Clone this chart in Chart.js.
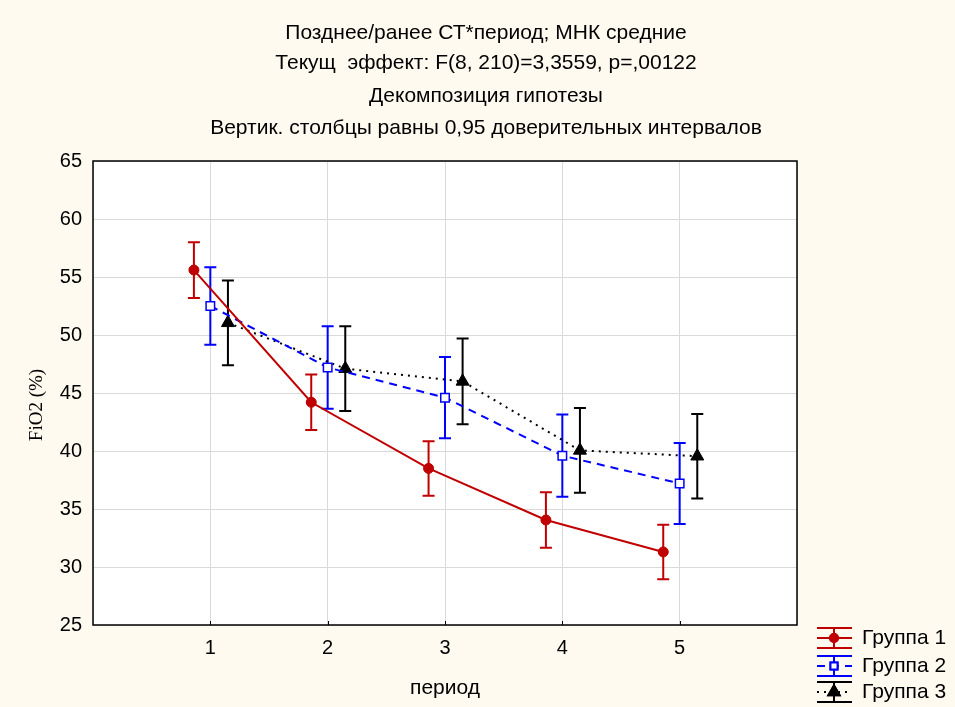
<!DOCTYPE html>
<html>
<head>
<meta charset="utf-8">
<script src="https://cdn.jsdelivr.net/npm/chart.js@4.4.0/dist/chart.umd.min.js"></script>
<style>
  body { margin: 0; background: #fffaf0; }
  #wrap { width: 955px; height: 707px; }
</style>
</head>
<body>
<div id="wrap"><canvas id="grafico" width="955" height="707"></canvas></div>
<script>
// dados
const periodos = [1, 2, 3, 4, 5];
const yTicks = [25, 30, 35, 40, 45, 50, 55, 60, 65];
const titulos = [
    'Позднее/ранее СТ*период; МНК средние',
    'Текущ  эффект: F(8, 210)=3,3559, p=,00122',
    'Декомпозиция гипотезы',
    'Вертик. столбцы равны 0,95 доверительных интервалов'
];
const nomesGrupos = ['Группа 1', 'Группа 2', 'Группа 3'];
const grupo1 = [55.6, 44.2, 38.5, 34.05, 31.3];
const grupo1Ci = [2.4, 2.4, 2.35, 2.4, 2.35];
const grupo2 = [52.5, 47.2, 44.6, 39.6, 37.2];
const grupo2Ci = [3.35, 3.55, 3.5, 3.55, 3.5];
const grupo3 = [51.05, 47.1, 46.0, 40.05, 39.55];
const grupo3Ci = [3.65, 3.65, 3.7, 3.65, 3.65];

const FONTE = '"Liberation Sans", Arial, sans-serif';

function montarPontos(valores, desloc) {
    return periodos.map(function (p, i) {
        return { x: p + desloc, y: valores[i] };
    });
}

const dados = {
    datasets: [{
        label: nomesGrupos[0],
        data: montarPontos(grupo1, -0.14),
        ci: grupo1Ci,
        borderColor: '#c00000',
        backgroundColor: '#c00000',
        borderWidth: 2,
        pointStyle: 'circle',
        pointRadius: 5,
        pointBorderWidth: 1
    }, {
        label: nomesGrupos[1],
        data: montarPontos(grupo2, 0),
        ci: grupo2Ci,
        borderColor: '#0000ff',
        backgroundColor: '#ffffff',
        borderWidth: 2,
        borderDash: [8, 6],
        pointStyle: 'rect',
        pointRadius: 6,
        pointBorderWidth: 1.5
    }, {
        label: nomesGrupos[2],
        data: montarPontos(grupo3, 0.15),
        ci: grupo3Ci,
        borderColor: '#000000',
        backgroundColor: '#000000',
        borderWidth: 2,
        borderDash: [2, 5],
        pointStyle: 'triangle',
        pointRadius: 7.5,
        pointBorderWidth: 1
    }]
};

// fundo creme + área branca
const fundoPlugin = {
    id: 'fundo',
    beforeDraw(chart) {
        const ctx = chart.ctx;
        const a = chart.chartArea;
        ctx.save();
        ctx.fillStyle = '#fffaf0';
        ctx.fillRect(0, 0, chart.width, chart.height);
        ctx.fillStyle = '#ffffff';
        ctx.fillRect(a.left, a.top, a.right - a.left, a.bottom - a.top);
        ctx.restore();
    }
};

// barras de erro (intervalos de confiança)
const barrasPlugin = {
    id: 'barras',
    beforeDatasetsDraw(chart) {
        const ctx = chart.ctx;
        const ys = chart.scales.y;
        chart.data.datasets.forEach(function (ds, i) {
            const meta = chart.getDatasetMeta(i);
            ctx.save();
            ctx.strokeStyle = ds.borderColor;
            ctx.lineWidth = 2;
            meta.data.forEach(function (pt, j) {
                const v = ds.data[j].y;
                const e = ds.ci[j];
                const topo = ys.getPixelForValue(v + e);
                const base = ys.getPixelForValue(v - e);
                ctx.beginPath();
                ctx.moveTo(pt.x, topo);
                ctx.lineTo(pt.x, base);
                ctx.moveTo(pt.x - 6, topo);
                ctx.lineTo(pt.x + 6, topo);
                ctx.moveTo(pt.x - 6, base);
                ctx.lineTo(pt.x + 6, base);
                ctx.stroke();
            });
            ctx.restore();
        });
    }
};

// moldura, títulos, legenda
const textosPlugin = {
    id: 'textos',
    afterDraw(chart) {
        const ctx = chart.ctx;
        const a = chart.chartArea;
        const xs = chart.scales.x;
        ctx.save();

        // marcas do eixo x
        ctx.strokeStyle = '#000';
        ctx.lineWidth = 1;
        periodos.forEach(function (p) {
            const px = Math.round(xs.getPixelForValue(p)) + 0.5;
            ctx.beginPath();
            ctx.moveTo(px, a.bottom);
            ctx.lineTo(px, a.bottom - 4);
            ctx.stroke();
        });

        ctx.lineWidth = 1.5;
        ctx.strokeRect(a.left, a.top, a.right - a.left, a.bottom - a.top);

        ctx.fillStyle = '#000';
        ctx.font = '21px ' + FONTE;
        ctx.textAlign = 'center';
        ctx.textBaseline = 'middle';
        const ysTit = [33, 63, 96, 128];
        titulos.forEach(function (t, i) {
            ctx.fillText(t, 486, ysTit[i]);
        });

        ctx.fillText('период', (a.left + a.right) / 2, 688);

        ctx.save();
        ctx.translate(37, 405);
        ctx.rotate(-Math.PI / 2);
        ctx.font = '19px "Liberation Serif", "Times New Roman", serif';
        ctx.fillText('FiO2 (%)', 0, 0);
        ctx.restore();

        // legenda
        const linhas = [638, 666, 692];
        chart.data.datasets.forEach(function (ds, i) {
            const cy = linhas[i];
            const x0 = 817, x1 = 852, cx = 834;
            ctx.strokeStyle = ds.borderColor;
            ctx.lineWidth = 2;
            ctx.setLineDash([]);
            ctx.beginPath();
            ctx.moveTo(x0, cy - 10); ctx.lineTo(x1, cy - 10);
            ctx.moveTo(x0, cy + 10); ctx.lineTo(x1, cy + 10);
            ctx.moveTo(cx, cy - 10); ctx.lineTo(cx, cy + 10);
            ctx.stroke();
            ctx.setLineDash(ds.borderDash || []);
            ctx.beginPath();
            ctx.moveTo(x0, cy); ctx.lineTo(x1, cy);
            ctx.stroke();
            ctx.setLineDash([]);
            Chart.helpers.drawPoint(ctx, {
                pointStyle: ds.pointStyle,
                radius: ds.pointRadius - 1,
                borderWidth: ds.pointBorderWidth,
                rotation: 0
            }, cx, cy);
            ctx.fillStyle = ds.backgroundColor;
            ctx.fill();
            ctx.stroke();

            ctx.fillStyle = '#000';
            ctx.font = '21px ' + FONTE;
            ctx.textAlign = 'left';
            ctx.fillText(ds.label, 862, cy);
        });
        ctx.restore();
    }
};

const config = {
    type: 'line',
    data: dados,
    options: {
        responsive: false,
        animation: false,
        layout: { padding: { left: 0, top: 161, right: 158, bottom: 0 } },
        plugins: {
            legend: { display: false },
            title: { display: false },
            tooltip: { enabled: false }
        },
        scales: {
            x: {
                type: 'linear',
                min: 0,
                max: 6,
                afterBuildTicks: function (scale) {
                    scale.ticks = [0].concat(periodos, [6]).map(function (v) { return { value: v }; });
                },
                afterFit: function (scale) { scale.height = 82; },
                border: { display: false },
                grid: { color: '#d9d9d9', drawTicks: false, lineWidth: 1 },
                ticks: {
                    padding: 11,
                    color: '#000',
                    font: { family: FONTE, size: 20 },
                    callback: function (v) { return periodos.includes(v) ? String(v) : ''; }
                }
            },
            y: {
                min: yTicks[0],
                max: yTicks[yTicks.length - 1],
                afterBuildTicks: function (scale) {
                    scale.ticks = yTicks.map(function (v) { return { value: v }; });
                },
                afterFit: function (scale) { scale.width = 93; },
                border: { display: false },
                grid: { color: '#d9d9d9', drawTicks: false, lineWidth: 1 },
                ticks: {
                    padding: 11,
                    color: '#000',
                    font: { family: FONTE, size: 20 }
                }
            }
        }
    },
    plugins: [fundoPlugin, barrasPlugin, textosPlugin]
};

new Chart(document.getElementById('grafico'), config);
</script>
</body>
</html>
